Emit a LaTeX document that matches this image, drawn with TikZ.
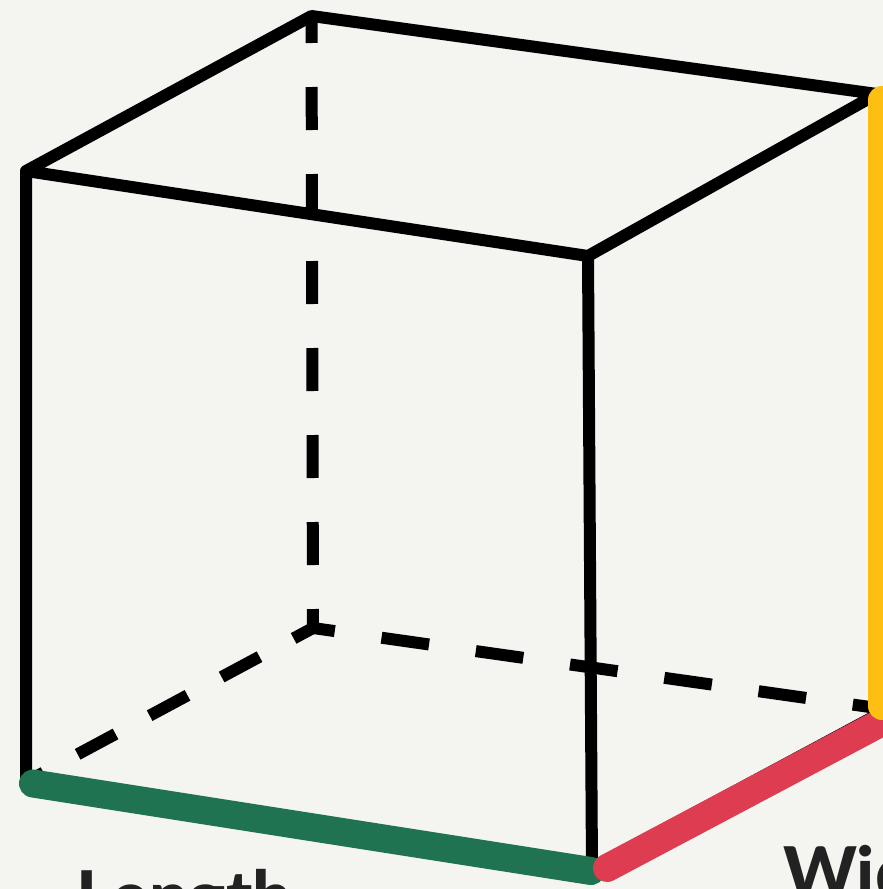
\documentclass[tikz,border=0pt]{standalone}
\usepackage{fontspec}
\setmainfont{Lato}[BoldFont={Lato Heavy}]
\definecolor{bg}{HTML}{F4F5F0}
\definecolor{gr}{HTML}{1F7350}
\definecolor{rd}{HTML}{DE3C50}
\definecolor{yl}{HTML}{FFBE12}
\definecolor{ink}{HTML}{222222}
\tikzset{
 edge/.style={line width=12pt,draw=black,line join=round},
 hidden/.style={line width=12pt,draw=black},
 accent/.style={line width=28pt,line cap=round},
 lab/.style={font=\fontsize{70pt}{70pt}\selectfont\bfseries,text=ink,inner sep=0pt,anchor=base west}
}
\begin{document}
\begin{tikzpicture}[x=1pt,y=-1pt]
\useasboundingbox (0,0) rectangle (883,889);
\clip (0,0) rectangle (883,889);
\fill[bg] (0,0) rectangle (883,889);
\coordinate (tb) at (311.5,16);
\coordinate (tr) at (877,94);
\coordinate (tl) at (26,171);
\coordinate (tf) at (588,256);
\coordinate (bl) at (26,782);
\coordinate (bf) at (592,868);
\coordinate (bb) at (313,628);
\coordinate (br) at (877,708);
\coordinate (brl) at (877,715);
\coordinate (gs) at (33,783.5);
\coordinate (ge) at (591,871);
\coordinate (rs) at (607,868);
\coordinate (re) at (905,710);
\coordinate (ys) at (882,100);
\coordinate (ye) at (882,706);
\draw[hidden,dash pattern=on 43pt off 44pt,dash phase=16pt] (tb) -- (bb);
\draw[hidden,dash pattern=on 48pt off 47.2pt,dash phase=26pt] (bb) -- (br);
\draw[hidden,dash pattern=on 43pt off 38.7pt,dash phase=21pt] (bb) -- (bl);
\draw[edge] (tl) -- (tb) -- (tr) -- (tf) -- (tl) -- (bl);
\draw[edge] (tf) -- (bf);
\draw[line width=12pt] (bf) -- (brl);
\draw[accent,gr] (gs) -- (ge);
\draw[accent,rd] (rs) -- (re);
\draw[accent,yl] (ys) -- (ye);
\node[lab] (length) at (76.5,921) {Length};
\node[lab] (width) at (783,897) {Width};
\end{tikzpicture}
\end{document}
